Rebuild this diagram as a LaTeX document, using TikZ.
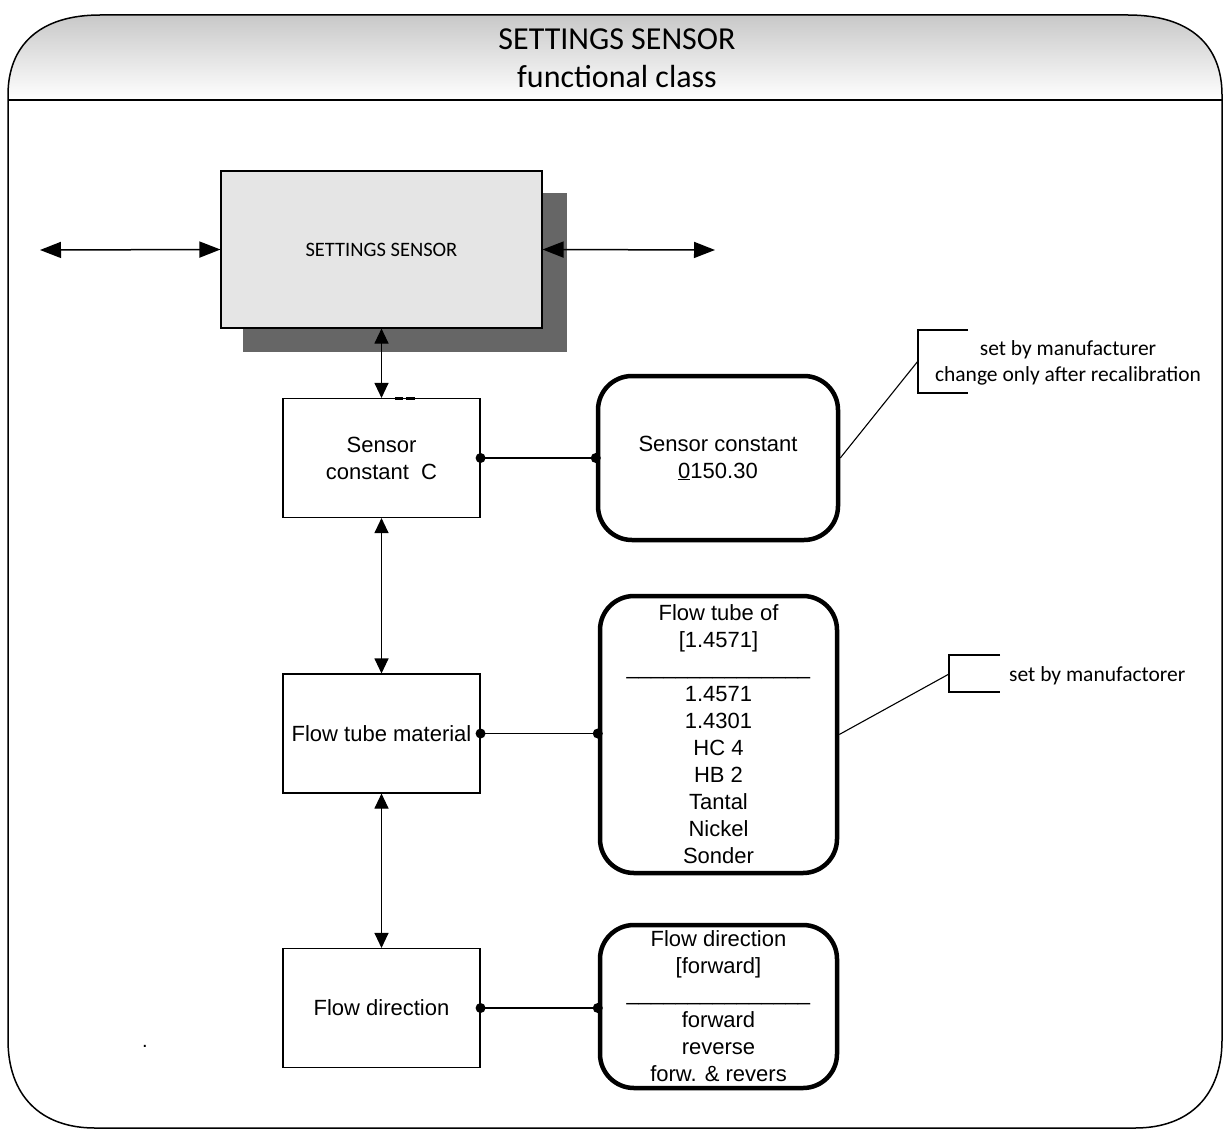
\documentclass[tikz,border=0pt]{standalone}
\usepackage{fontspec}
\setmainfont{Liberation Sans}
\newfontfamily\calibri{Carlito}
\usetikzlibrary{arrows.meta}
\tikzset{
  fnbox/.style={draw, line width=1.1pt, minimum width=197pt, minimum height=119pt,
               inner sep=0pt, align=center, font=\fontsize{22}{27}\selectfont},
  valbox/.style={draw, line width=4.5pt, rounded corners=34pt, minimum width=237pt,
               inner sep=0pt, align=center, font=\fontsize{22}{27}\selectfont},
  mainbox/.style={draw, line width=1.1pt, fill=gray!20, minimum width=321pt,
               minimum height=157pt, font=\calibri\fontsize{20.5}{25}\selectfont},
  shadowbox/.style={fill=black!60, minimum width=324pt, minimum height=159pt},
  note/.style={font=\calibri\fontsize{21.5}{26}\selectfont, align=center, inner sep=0pt},
  link/.style={line width=1.1pt, {Triangle[length=15pt,width=14pt]}-{Triangle[length=15pt,width=14pt]}},
  widelink/.style={line width=1.5pt, {Triangle[length=21pt,width=16pt]}-{Triangle[length=21pt,width=16pt]}},
  joint/.style={circle, fill, inner sep=0pt, minimum size=10pt},
}

\begin{document}
\begin{tikzpicture}[x=1pt, y=-1pt]
    \useasboundingbox (0,0) rectangle (1225,1129);
    % frame with shaded header
    \shade[top color=gray!43, bottom color=white]
      (8,100) -- (8,95) .. controls (8,45) and (40,15) .. (100,15) -- (1128,15)
      .. controls (1190,15) and (1222,45) .. (1222,95) -- (1222,100) -- cycle;
    \draw[line width=1.5pt]
      (8,1040) -- (8,95) .. controls (8,45) and (40,15) .. (100,15) -- (1128,15)
      .. controls (1190,15) and (1222,45) .. (1222,95) -- (1222,1040)
      .. controls (1222,1095) and (1190,1128) .. (1135,1128) -- (95,1128)
      .. controls (40,1128) and (8,1095) .. (8,1040);
    \draw[line width=1.5pt] (8,100) -- (1222,100);
    \node[font=\calibri\fontsize{32}{38}\selectfont, align=center] (title) at (617,58)
      {SETTINGS SENSOR\\functional class};

    \node[shadowbox] (shadow) at (405,272.5) {};
    \node[mainbox] (ss) at (381.5,249.5) {SETTINGS SENSOR};
    \coordinate (lend) at (40,250);
    \coordinate (rend) at (715,250);
    \draw[widelink] (lend) -- (ss.west);
    \draw[widelink] (ss.east) -- (rend);

    \node[fnbox] (sc) at (381.5,458) {Sensor\\constant~~C};
    \node[fnbox] (ft) at (381.5,733.5) {Flow tube material};
    \node[fnbox] (fd) at (381.5,1008) {Flow direction};
    \draw[line width=2.5pt] (395,398.5) -- (403,398.5) (406,398.5) -- (415,398.5);

    \draw[link] (ss.south -| sc.north) -- (sc.north);
    \draw[link] (sc.south) -- (ft.north);
    \draw[link] (ft.south) -- (fd.north);

    \node[valbox, minimum width=240pt, minimum height=164pt] (scv) at (718,458)
      {Sensor constant\\\underline{0}150.30};
    \node[valbox, minimum height=277pt] (ftv) at (718.5,734.5)
      {Flow tube of\\{[1.4571]}\\\_\_\_\_\_\_\_\_\_\_\_\_\_\_\_\\1.4571\\1.4301\\HC 4\\HB 2\\Tantal\\Nickel\\Sonder};
    \node[valbox, minimum height=163pt] (fdv) at (718.5,1006.5)
      {Flow direction\\{[forward]}\\\_\_\_\_\_\_\_\_\_\_\_\_\_\_\_\\forward\\reverse\\forw. \& revers};

    \draw[line width=1.1pt] (sc.east) -- (sc.east -| scv.west) coordinate (j1);
    \draw[line width=1.1pt] (ft.east) -- (ft.east -| ftv.west) coordinate (j2);
    \draw[line width=1.1pt] (fd.east) -- (fd.east -| fdv.west) coordinate (j3);
    \foreach \p in {sc.east, j1, ft.east, j2, fd.east, j3}
      \node[joint] at (\p) {};

    % callouts
    \coordinate (n1) at (918,361);
    \draw[line width=1.1pt] (968,330) -| (918,393) -- (968,393);
    \draw[line width=1.1pt] (n1) -- (scv.east);
    \node[note] (note1) at (1068,363) {set by manufacturer\\change only after recalibration};
    \coordinate (n2) at (949,674);
    \draw[line width=1.1pt] (1000,655) -| (949,692) -- (1000,692);
    \draw[line width=1.1pt] (n2) -- (ftv.east);
    \node[note, anchor=west] (note2) at (1009,676) {set by manufactorer};

    \node[font=\fontsize{20}{20}\selectfont] (dot) at (145,1046) {.};
  \end{tikzpicture}
\end{document}
